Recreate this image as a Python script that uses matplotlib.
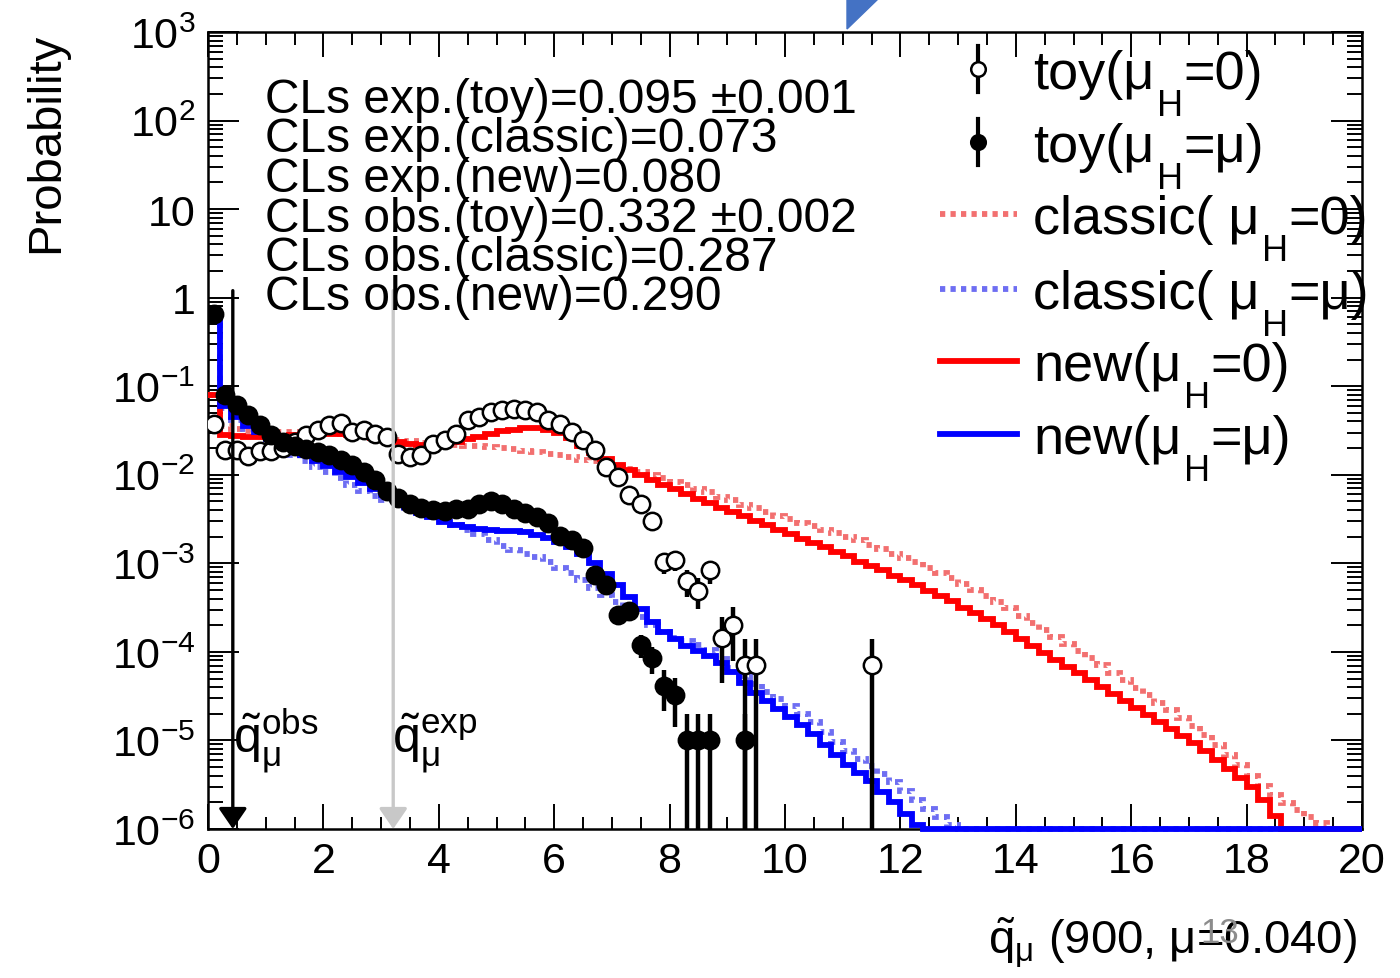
import numpy as np
import matplotlib
matplotlib.use("Agg")
import matplotlib.pyplot as plt
from matplotlib.lines import Line2D
from matplotlib.patches import Polygon
from matplotlib.ticker import MultipleLocator, LogLocator, NullFormatter

plt.rcParams['font.family'] = ['Liberation Sans', 'DejaVu Sans']
plt.rcParams['mathtext.fontset'] = 'custom'
plt.rcParams['mathtext.rm'] = 'Liberation Sans'
plt.rcParams['mathtext.it'] = 'Liberation Sans:italic'
plt.rcParams['mathtext.bf'] = 'Liberation Sans:bold'

# ---------------- data (log10 of probability per 0.2-wide bin, starting at x=0) ----------------
new_mu0_log10 = [
    -1.10, -1.55, -1.56, -1.57, -1.57, -1.57, -1.56, -1.55, -1.55, -1.54,
    -1.54, -1.54, -1.55, -1.56, -1.58, -1.60, -1.63, -1.65, -1.66, -1.66,
    -1.65, -1.63, -1.60, -1.57, -1.54, -1.51, -1.49, -1.47, -1.47, -1.49,
    -1.53, -1.59, -1.67, -1.75, -1.82, -1.89, -1.95, -2.00, -2.06, -2.11,
    -2.16, -2.22, -2.27, -2.32, -2.38, -2.42, -2.47, -2.52, -2.57, -2.62,
    -2.67, -2.72, -2.77, -2.82, -2.87, -2.92, -2.98, -3.03, -3.08, -3.14,
    -3.19, -3.25, -3.31, -3.37, -3.43, -3.50, -3.56, -3.63, -3.70, -3.78,
    -3.86, -3.93, -4.01, -4.09, -4.17, -4.24, -4.32, -4.40, -4.48, -4.55,
    -4.63, -4.71, -4.79, -4.87, -4.95, -5.03, -5.12, -5.22, -5.32, -5.42,
    -5.53, -5.67, -5.85]
classic_mu0_log10 = [
    -1.10, -1.45, -1.48, -1.50, -1.51, -1.52, -1.52, -1.52, -1.52, -1.53,
    -1.53, -1.54, -1.55, -1.56, -1.58, -1.59, -1.61, -1.62, -1.64, -1.65,
    -1.66, -1.66, -1.67, -1.68, -1.69, -1.70, -1.71, -1.73, -1.74, -1.76,
    -1.78, -1.80, -1.83, -1.85, -1.88, -1.91, -1.94, -1.97, -2.00, -2.04,
    -2.08, -2.12, -2.16, -2.20, -2.25, -2.29, -2.34, -2.38, -2.42, -2.46,
    -2.50, -2.54, -2.58, -2.62, -2.66, -2.70, -2.74, -2.79, -2.84, -2.89,
    -2.94, -2.99, -3.05, -3.11, -3.17, -3.23, -3.30, -3.37, -3.44, -3.51,
    -3.59, -3.67, -3.75, -3.83, -3.91, -3.99, -4.07, -4.15, -4.24, -4.32,
    -4.41, -4.49, -4.58, -4.66, -4.75, -4.84, -4.94, -5.05, -5.16, -5.28,
    -5.40, -5.52, -5.62, -5.71, -5.79, -5.86, -5.93]
new_mu_log10 = [
    -0.18, -1.22, -1.35, -1.45, -1.52, -1.60, -1.66, -1.72, -1.78, -1.84,
    -1.90, -1.97, -2.03, -2.09, -2.16, -2.23, -2.29, -2.36, -2.43, -2.48,
    -2.53, -2.57, -2.59, -2.61, -2.62, -2.63, -2.64, -2.65, -2.68, -2.71,
    -2.76, -2.82, -2.90, -3.00, -3.12, -3.25, -3.38, -3.52, -3.66, -3.77,
    -3.86, -3.93, -3.99, -4.05, -4.13, -4.23, -4.35, -4.46, -4.55, -4.65,
    -4.74, -4.83, -4.93, -5.05, -5.17, -5.28, -5.37, -5.46, -5.58, -5.70,
    -5.83, -5.95]
classic_mu_log10 = [
    -0.18, -1.25, -1.38, -1.48, -1.56, -1.64, -1.71, -1.78, -1.85, -1.91,
    -1.97, -2.04, -2.11, -2.18, -2.24, -2.28, -2.32, -2.37, -2.42, -2.47,
    -2.52, -2.57, -2.62, -2.67, -2.74, -2.80, -2.85, -2.89, -2.93, -2.99,
    -3.05, -3.11, -3.19, -3.28, -3.36, -3.44, -3.52, -3.61, -3.70, -3.78,
    -3.84, -3.88, -3.92, -3.98, -4.08, -4.18, -4.27, -4.36, -4.45, -4.53,
    -4.61, -4.70, -4.79, -4.90, -5.02, -5.12, -5.21, -5.29, -5.38, -5.47,
    -5.57, -5.67, -5.77, -5.87, -5.95]

toy_mu0_x = [0.1, 0.3, 0.5, 0.7, 0.9, 1.1, 1.3, 1.5, 1.7, 1.9,
             2.1, 2.3, 2.5, 2.7, 2.9, 3.1, 3.3, 3.5, 3.7, 3.9,
             4.1, 4.3, 4.5, 4.7, 4.9, 5.1, 5.3, 5.5, 5.7, 5.9,
             6.1, 6.3, 6.5, 6.7, 6.9, 7.1, 7.3, 7.5, 7.7, 7.9,
             8.1, 8.3, 8.5, 8.7, 8.9, 9.1, 9.3, 9.5, 11.5]
toy_mu0_log10 = [-1.43, -1.72, -1.72, -1.79, -1.73, -1.73, -1.70, -1.63, -1.55, -1.49,
                 -1.44, -1.41, -1.52, -1.49, -1.54, -1.57, -1.77, -1.80, -1.78, -1.65,
                 -1.61, -1.54, -1.38, -1.35, -1.29, -1.27, -1.26, -1.27, -1.29, -1.38,
                 -1.43, -1.52, -1.61, -1.72, -1.91, -2.03, -2.23, -2.33, -2.52, -2.99,
                 -2.96, -3.20, -3.31, -3.08, -3.84, -3.70, -4.15, -4.15, -4.15]
toy_mu0_err = [0.0] * 37 + [5.7e-4, 4.6e-4, 2.7e-4, 2.8e-4, 2.1e-4, 1.85e-4,
                            2.4e-4, 1.0e-4, 1.2e-4, 7.0e-5, 7.0e-5, 7.0e-5]

toy_mu_x = [0.1, 0.3, 0.5, 0.7, 0.9, 1.1, 1.3, 1.5, 1.7, 1.9,
            2.1, 2.3, 2.5, 2.7, 2.9, 3.1, 3.3, 3.5, 3.7, 3.9,
            4.1, 4.3, 4.5, 4.7, 4.9, 5.1, 5.3, 5.5, 5.7, 5.9,
            6.1, 6.3, 6.5, 6.7, 6.9, 7.1, 7.3, 7.5, 7.7, 7.9,
            8.1, 8.3, 8.5, 8.7, 9.3]
toy_mu_log10 = [-0.19, -1.10, -1.21, -1.32, -1.44, -1.55, -1.63, -1.67, -1.71, -1.74,
                -1.78, -1.83, -1.89, -1.97, -2.06, -2.18, -2.26, -2.33, -2.37, -2.40,
                -2.41, -2.39, -2.39, -2.33, -2.30, -2.33, -2.39, -2.43, -2.48, -2.54,
                -2.69, -2.74, -2.83, -3.13, -3.25, -3.58, -3.54, -3.92, -4.07, -4.38,
                -4.49, -5.00, -5.00, -5.00, -5.00]
toy_mu_err = [0.0] * 33 + [8.6e-5, 7.5e-5, 5.1e-5, 5.4e-5, 3.5e-5, 2.9e-5,
                           2.0e-5, 1.8e-5, 1.0e-5, 1.0e-5, 1.0e-5, 1.0e-5]

q_obs = 0.43
q_exp = 3.21

cls_lines = ["CLs exp.(toy)=0.095 \u00b10.001",
             "CLs exp.(classic)=0.073",
             "CLs exp.(new)=0.080",
             "CLs obs.(toy)=0.332 \u00b10.002",
             "CLs obs.(classic)=0.287",
             "CLs obs.(new)=0.290"]

xtick_vals = [0, 2, 4, 6, 8, 10, 12, 14, 16, 18, 20]
ytick_vals = [1e3, 1e2, 1e1, 1e0, 1e-1, 1e-2, 1e-3, 1e-4, 1e-5, 1e-6]
ytick_labels = [r'$\mathdefault{10^{3}}$', r'$\mathdefault{10^{2}}$', '10', '1',
                r'$\mathdefault{10^{-1}}$', r'$\mathdefault{10^{-2}}$', r'$\mathdefault{10^{-3}}$',
                r'$\mathdefault{10^{-4}}$', r'$\mathdefault{10^{-5}}$', r'$\mathdefault{10^{-6}}$']

# ---------------- figure ----------------
W, H = 1400, 979
YMIN, YMAX = 1e-6, 1e3
N_BINS = 100
fig = plt.figure(figsize=(W / 100, H / 100), dpi=100)


def fx(px):
    return px / W


def fy(py):
    return 1 - py / H


ax = fig.add_axes([fx(208), fy(830), fx(1362) - fx(208), fy(33) - fy(830)])
ax.set_yscale('log')
ax.set_xlim(0, 20)
ax.set_ylim(YMIN, YMAX)

edges = np.linspace(0, 20, N_BINS + 1)


def hist_vals(logs):
    out = np.full(N_BINS, YMIN)
    out[:len(logs)] = 10.0 ** np.array(logs)
    return out


RED = '#ff0000'
BLUE = '#0000ff'
PINK = '#f27070'
LBLUE = '#6e6ef2'
LW = 4.2
DOT = (0, (0.9, 0.9))

ax.stairs(hist_vals(classic_mu0_log10), edges, baseline=None, color=PINK, lw=LW,
          linestyle=DOT, zorder=2.6, clip_on=False)
ax.stairs(hist_vals(classic_mu_log10), edges, baseline=None, color=LBLUE, lw=LW,
          linestyle=DOT, zorder=2.6, clip_on=False)
ax.stairs(hist_vals(new_mu0_log10), edges, baseline=None, color=RED, lw=LW,
          zorder=2.7, clip_on=False)
ax.stairs(hist_vals(new_mu_log10), edges, baseline=None, color=BLUE, lw=LW,
          zorder=2.8, clip_on=False)

# toy points
for xs, logs, errs, face in [(toy_mu0_x, toy_mu0_log10, toy_mu0_err, 'white'),
                             (toy_mu_x, toy_mu_log10, toy_mu_err, 'black')]:
    xs = np.array(xs)
    v = 10.0 ** np.array(logs)
    e = np.array(errs)
    sel = e > 0
    lo = np.maximum(v - e, YMIN * 1e-2)
    ax.vlines(xs[sel], lo[sel], (v + e)[sel], color='black', lw=3.2, zorder=3)
    ax.plot(xs, v, linestyle='none', marker='o', ms=12.5, mfc=face, mec='black',
            mew=1.8, zorder=4)

# arrows for observed / expected
for xq, col in [(q_obs, 'black'), (q_exp, '#c8c8c8')]:
    ax.annotate('', xy=(xq, YMIN), xytext=(xq, 1.2), annotation_clip=False,
                arrowprops=dict(arrowstyle='-|>,head_length=0.7,head_width=0.48',
                                color=col, lw=2.4, shrinkA=0, shrinkB=0,
                                mutation_scale=18), zorder=5)

fig.text(fx(233), fy(753), r'$\tilde{\mathrm{q}}_{\mathrm{\mu}}^{\mathrm{obs}}$',
         fontsize=36, ha='left', va='baseline')
fig.text(fx(392), fy(753), r'$\tilde{\mathrm{q}}_{\mathrm{\mu}}^{\mathrm{exp}}$',
         fontsize=36, ha='left', va='baseline')

# ticks
ax.set_xticks(xtick_vals)
ax.xaxis.set_minor_locator(MultipleLocator(0.5))
ax.set_yticks(ytick_vals)
ax.set_yticklabels(ytick_labels)
ax.yaxis.set_minor_locator(LogLocator(base=10, subs=np.arange(2, 10), numticks=30))
ax.yaxis.set_minor_formatter(NullFormatter())
ax.tick_params(which='both', direction='in', top=True, right=True, width=1.4,
               labelsize=31)
ax.tick_params(axis='x', which='major', length=18, pad=9)
ax.tick_params(axis='x', which='minor', length=9)
ax.tick_params(axis='y', which='major', length=22, pad=9)
ax.tick_params(axis='y', which='minor', length=11)
for s in ax.spines.values():
    s.set_linewidth(1.8)

# CLs texts
for i, line in enumerate(cls_lines):
    base = [113, 152, 192, 232, 271, 310][i]
    fig.text(fx(265), fy(base), line, fontsize=34.5, ha='left', va='baseline')

# axis titles
fig.text(fx(46), fy(143), 'Probability', rotation=90, fontsize=34,
         ha='center', va='center')
fig.text(fx(1357), fy(955), r'$\tilde{\mathrm{q}}_{\mathrm{\mu}}$' + ' (900, \u03bc=0.040)',
         fontsize=34, ha='right', va='baseline')

# legend
leg_rows = [('toy(', '=0)', 'open'), ('toy(', '=\u03bc)', 'filled'),
            ('classic( ', '=0)', PINK), ('classic( ', '=\u03bc)', LBLUE),
            ('new(', '=0)', RED), ('new(', '=\u03bc)', BLUE)]
leg_centers = [70, 143, 215, 290, 362, 435]
for (pre, post, kind), cy in zip(leg_rows, leg_centers):
    if kind in ('open', 'filled'):
        fig.add_artist(Line2D([fx(978), fx(978)], [fy(cy - 23), fy(cy + 23)],
                              transform=fig.transFigure, color='black', lw=3.0))
        fig.add_artist(Line2D([fx(978)], [fy(cy)], transform=fig.transFigure,
                              marker='o', ms=10.5, mec='black', mew=1.8,
                              mfc='white' if kind == 'open' else 'black'))
    else:
        ls = DOT if kind in (PINK, LBLUE) else '-'
        fig.add_artist(Line2D([fx(940), fx(1017)], [fy(cy), fy(cy)],
                              transform=fig.transFigure, color=kind, lw=LW,
                              linestyle=ls))
    base = fy(cy + 19)
    t1 = ax.annotate(pre + '\u03bc', xy=(fx(1033), base), xycoords='figure fraction',
                     fontsize=39, ha='left', va='baseline', annotation_clip=False)
    t2 = ax.annotate('H', xy=(1.0, base), xycoords=(t1, 'figure fraction'),
                     xytext=(2, 0), textcoords='offset points',
                     fontsize=26, ha='left', va='top', annotation_clip=False)
    ax.annotate(post, xy=(1.0, base), xycoords=(t2, 'figure fraction'),
                fontsize=39, ha='left', va='baseline', annotation_clip=False)

# slide decorations
fig.add_artist(Polygon([(fx(847), fy(0)), (fx(878), fy(0)), (fx(847), fy(30))],
                       closed=True, transform=fig.transFigure, color='#4472c4'))
fig.text(fx(1200), fy(943), '13', color='#8c8c8c', fontsize=25,
         ha='left', va='baseline')

fig.savefig('out.png', dpi=100)
